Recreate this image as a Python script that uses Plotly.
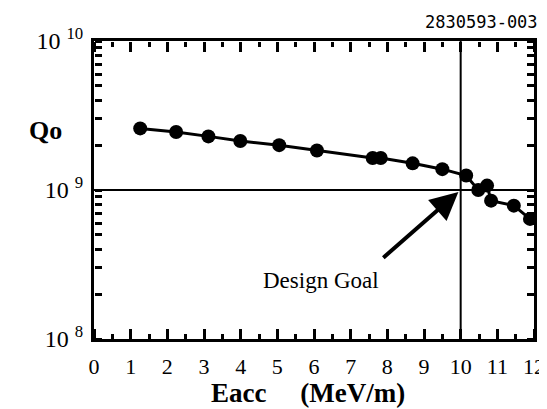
import plotly.graph_objects as go

# Data
eacc = [1.26, 2.24, 3.12, 3.99, 5.05, 6.08, 7.60, 7.82, 8.69, 9.50,
        10.15, 10.48, 10.72, 10.83, 11.45, 11.89]
qo = [2.59e9, 2.45e9, 2.29e9, 2.13e9, 2.00e9, 1.84e9, 1.64e9, 1.64e9,
      1.51e9, 1.38e9, 1.25e9, 1.00e9, 1.07e9, 8.48e8, 7.85e8, 6.40e8]

x_ticks = list(range(0, 13))
y_major = [1e8, 1e9, 1e10]
y_major_text = ["10 <sup>8</sup>", "10 <sup>9</sup>", "10 <sup>10</sup>"]
y_minor = [m * 10 ** e for e in (8, 9) for m in range(2, 10)]
y_ticks = y_major + y_minor

goal_e = 10
goal_q = 1e9

serif = "Liberation Serif"
ink = "black"

fig = go.Figure()
fig.add_trace(go.Scatter(
    x=eacc, y=qo, mode="lines+markers",
    line=dict(color="black", width=3),
    marker=dict(color="black", size=14),
    showlegend=False,
))
# invisible companions so the tick-only overlay axes are drawn
for xa, ya in (("x2", "y2"), ("x3", "y3")):
    fig.add_trace(go.Scatter(
        x=eacc, y=qo, xaxis=xa, yaxis=ya, mode="markers",
        marker=dict(opacity=0), hoverinfo="skip", showlegend=False,
    ))

fig.add_shape(type="line", x0=goal_e, x1=goal_e, y0=0, y1=1, yref="paper",
              xref="x", opacity=1, line=dict(color="black", width=2))
fig.add_shape(type="line", x0=0, x1=1, xref="paper", y0=goal_q, y1=goal_q,
              yref="y", opacity=1, line=dict(color="black", width=2))

fig.add_annotation(x=goal_e, y=9, xref="x", yref="y",
                   ax=7.85, ay=8.537, axref="x", ayref="y",
                   text="", showarrow=True, arrowhead=2, arrowsize=1.4,
                   arrowwidth=4, arrowcolor="black", standoff=3)
fig.add_annotation(x=0.517, y=0.197, xref="paper", yref="paper",
                   xanchor="center", yanchor="middle",
                   text="Design Goal", showarrow=False,
                   font=dict(family=serif, size=23, color="black"))


def x_tick_axis(side, pos):
    return dict(
        range=[0, 12], overlaying="x", anchor="free", position=pos,
        side=side, tickmode="array", tickvals=x_ticks, ticks="outside",
        ticklen=10, tickwidth=2.5, tickcolor=ink, showticklabels=False,
        showline=False, showgrid=False, zeroline=False,
        minor=dict(dtick=0.5, ticks="outside", ticklen=5, tickwidth=2.5,
                   tickcolor=ink, showgrid=False),
    )


def y_tick_axis(side, pos):
    return dict(
        type="log", range=[8, 10], overlaying="y", anchor="free",
        position=pos, side=side, tickmode="array", tickvals=y_ticks,
        ticks="outside", ticklen=7, tickwidth=2.5, tickcolor=ink,
        showticklabels=False, showline=False, showgrid=False,
        zeroline=False,
    )


fig.update_layout(
    template="simple_white",
    width=547, height=409,
    margin=dict(l=86, r=10, t=33, b=78),
    paper_bgcolor="white", plot_bgcolor="white",
    xaxis=dict(
        range=[0, 12], tickmode="array", tickvals=x_ticks,
        ticks="", showgrid=False, zeroline=False,
        showline=True, linecolor="black", linewidth=3, mirror=True,
        tickfont=dict(family=serif, size=22, color="black"),
        ticklabelstandoff=6,
    ),
    yaxis=dict(
        type="log", range=[8, 10], tickmode="array", tickvals=y_major,
        ticktext=y_major_text, ticks="",
        showgrid=False, zeroline=False, showline=True, linecolor="black",
        linewidth=3, mirror=True,
        tickfont=dict(family=serif, size=24, color="black"),
        ticklabelstandoff=3,
    ),
    xaxis2=x_tick_axis("top", 0),
    xaxis3=x_tick_axis("bottom", 1),
    yaxis2=y_tick_axis("right", 0),
    yaxis3=y_tick_axis("left", 1),
)

fig.add_annotation(x=0.487, y=-0.18, xref="paper", yref="paper",
                   xanchor="center", yanchor="middle",
                   text="<b>Eacc&nbsp;&nbsp;&nbsp;&nbsp;&nbsp;(MeV/m)</b>",
                   showarrow=False,
                   font=dict(family=serif, size=27, color="black"))
fig.add_annotation(x=-0.11, y=0.70, xref="paper", yref="paper",
                   xanchor="center", yanchor="middle",
                   text="<b>Qo</b>", showarrow=False,
                   font=dict(family=serif, size=26, color="black"))
fig.add_annotation(x=(543 - 86) / 451, y=1.0, xref="paper", yref="paper",
                   xanchor="right", yanchor="bottom", yshift=7,
                   text="2830593-003", showarrow=False,
                   font=dict(family="DejaVu Sans Mono", size=17,
                             color="black"))

fig.write_html("out.html")
